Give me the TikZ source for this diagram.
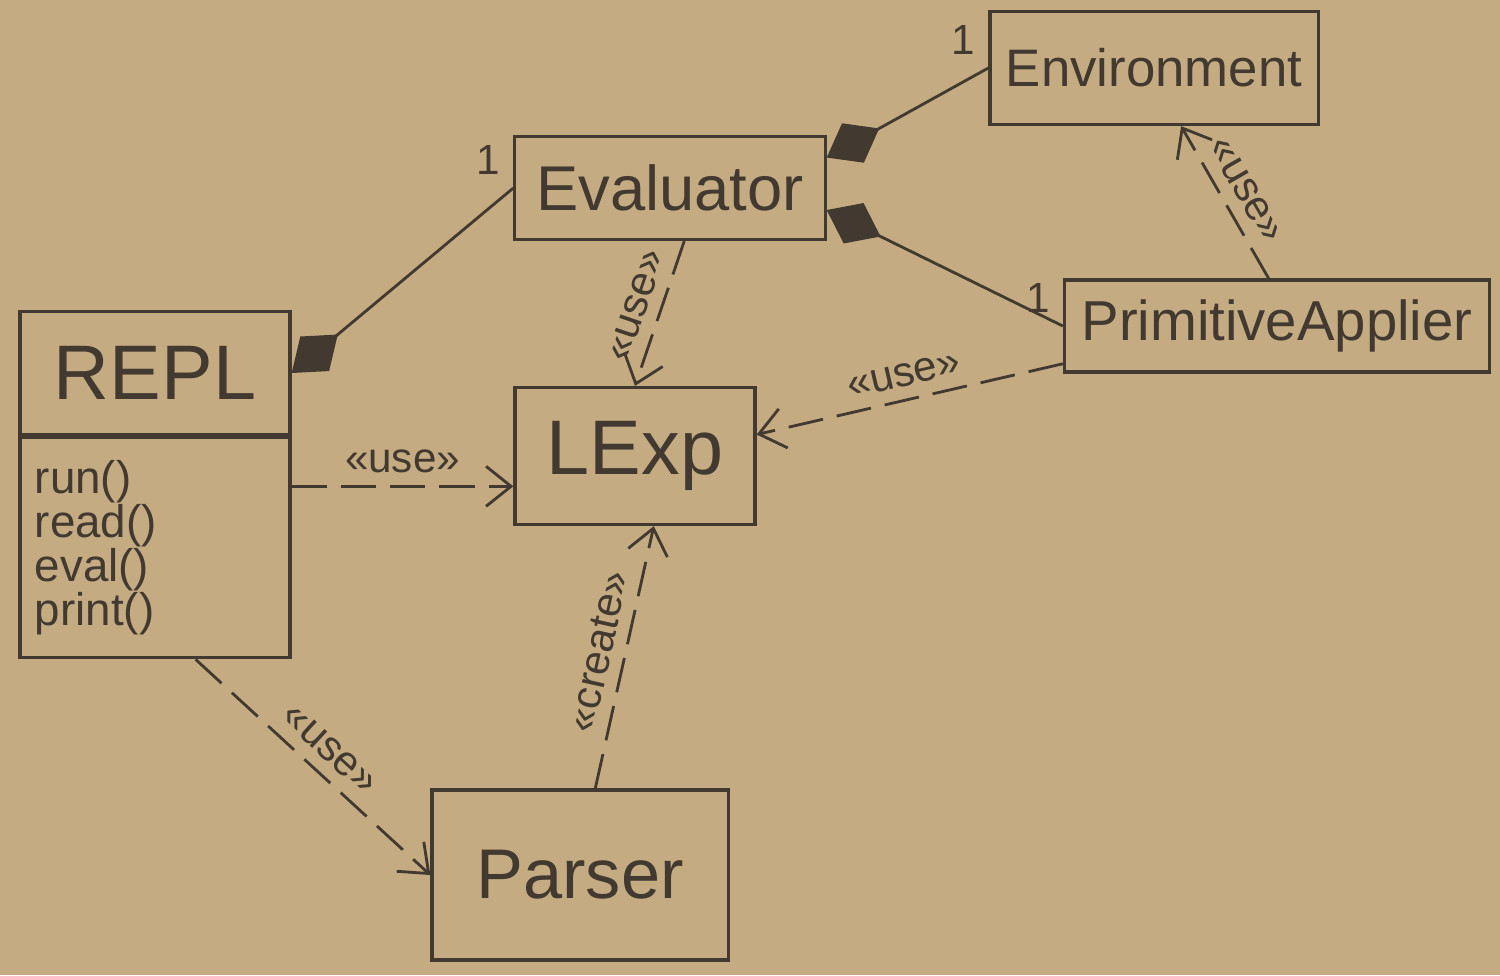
\documentclass[tikz,border=0pt]{standalone}
\usepackage{fontspec}
\setmainfont{Liberation Sans}
\usetikzlibrary{arrows.meta,calc}
\definecolor{pencil}{RGB}{66,57,48}
\definecolor{paper}{RGB}{196,171,130}

\begin{document}
\begin{tikzpicture}[x=0.01cm,y=-0.01cm,
 cls/.style={draw=pencil,line width=.9pt,inner sep=0pt,text=pencil},
 comp/.style={{Diamond[fill=pencil,length=6mm,width=4.5mm]}-,line width=.8pt,draw=pencil},
 dep/.style={-{Straight Barb[length=2.5mm,width=4mm]},line width=.8pt,draw=pencil,
 dash pattern=on 10pt off 4pt},
 stereo/.style={font=\fontsize{12}{12}\selectfont,text=pencil,sloped,above,midway},
 mult/.style={font=\fontsize{12}{12}\selectfont,text=pencil,pos=1,anchor=south east}
]
\fill[paper] (0,0) rectangle (1500,975);
\useasboundingbox (0,0) rectangle (1500,975);
\node[cls,minimum width=3.28cm,minimum height=1.13cm,font=\fontsize{15}{15}\selectfont]
 (env) at (1154,68) {Environment};
\node[cls,minimum width=3.1cm,minimum height=1.03cm,font=\fontsize{18}{18}\selectfont]
 (eval) at (670,188) {Evaluator};
\node[cls,minimum width=4.25cm,minimum height=.92cm,font=\fontsize{16}{16}\selectfont]
 (prim) at (1277,326) {PrimitiveApplier};
\node[cls,minimum width=2.7cm,minimum height=1.23cm,font=\fontsize{22}{22}\selectfont]
 (repl) at (155,373) {REPL};
\node[cls,minimum width=2.7cm,minimum height=2.2cm,text width=2.4cm,align=left,anchor=north,
 font=\fontsize{13}{12.5}\selectfont] (replops) at (repl.south) {run()\\read()\\eval()\\print()};
\node[cls,minimum width=2.4cm,minimum height=1.37cm,font=\fontsize{22}{22}\selectfont]
 (lexp) at (635,456) {LExp};
\node[cls,minimum width=2.96cm,minimum height=1.7cm,font=\fontsize{20}{20}\selectfont]
 (parser) at (580,875) {Parser};
% composition
\draw[comp] (repl.east) -- (eval.west) node[mult] {1};
\draw[comp] (eval.11) -- (env.west) node[mult] {1};
\draw[comp] (eval.-8) -- (prim.west) node[mult] {1};
% dependencies
\draw[dep] (eval.285) -- (lexp.north) node[stereo] {«use»};
\draw[dep] (prim.190) -- (lexp.10) node[stereo] {«use»};
\draw[dep] (replops.east |- lexp.194.5) -- (lexp.194.5) node[stereo] {«use»};
\draw[dep] (replops.-70) -- (parser.west) node[stereo] {«use»};
\draw[dep] (parser.80) -- (lexp.-75) node[stereo] {«create»};
\draw[dep] (prim.100) -- (env.-65) node[stereo] {«use»};
\end{tikzpicture}
\end{document}
